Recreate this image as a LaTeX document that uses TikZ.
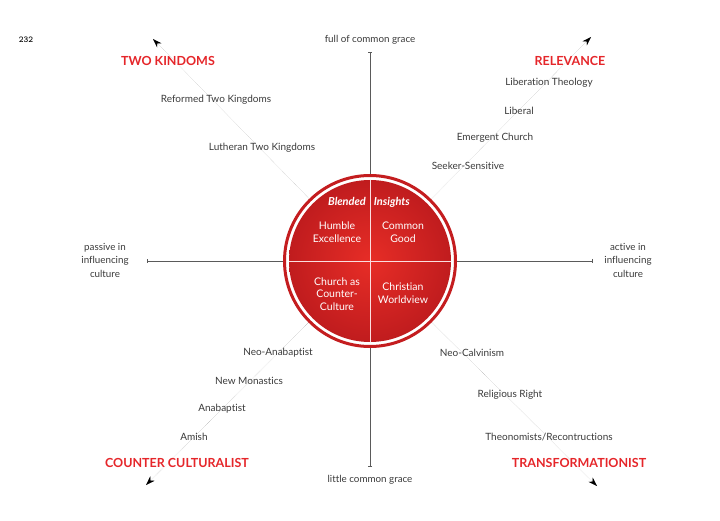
\documentclass[tikz,border=0pt]{standalone}
\usepackage{fontspec}
\setmainfont{Lato}[Ligatures=NoCommon]
\usetikzlibrary{positioning,arrows.meta}
\definecolor{Grace}{HTML}{E5262A}
\definecolor{GraceDark}{HTML}{C01C1E}
\definecolor{Axis}{HTML}{5A5A5A}
\definecolor{Ink}{HTML}{3A3A3A}

\begin{document}
\begin{tikzpicture}[x=1pt,y=-1pt,
    item/.style={font=\fontsize{10}{11}\selectfont,text=Ink},
    pole/.style={font=\fontsize{9.8}{13.5}\selectfont,text=Ink,align=center},
    camp/.style={font=\fontsize{12.5}{14}\selectfont\bfseries,text=Grace},
    blend/.style={font=\fontsize{10.5}{12.8}\selectfont,text=white,align=center},
    diag/.style={gray!60,densely dotted,-{Stealth[length=9pt,width=6pt,black]}}]
        \useasboundingbox (0,0) rectangle (720,521);
        % axes
        \coordinate (c) at (370,261);
        \coordinate (top) at (370,52);
        \coordinate (bot) at (370,467);
        \coordinate (lft) at (147,261);
        \coordinate (rgt) at (593,261);
        \draw[Axis,line width=0.9pt,{Bar[width=4pt]}-{Bar[width=4pt]}] (lft)--(rgt);
        \draw[Axis,line width=0.9pt,{Bar[width=4pt]}-{Bar[width=4pt]}] (top)--(bot);
        % diagonals
        \coordinate (tk) at (153,39);
        \coordinate (rel) at (591,37);
        \coordinate (cc) at (146,485);
        \coordinate (tf) at (597,486);
        \foreach \d in {tk,rel,cc,tf} {\draw[diag] (c)--(\d);}
        % disc
        \fill[white] (c) circle[radius=87pt];
        \draw[GraceDark!90!Grace,line width=3pt] (c) circle[radius=85.5pt];
        \shade[inner color=Grace!92!orange,outer color=GraceDark] (c) circle[radius=81pt];
        \begin{scope}
          \clip (c) circle[radius=81pt];
          \draw[white!85!Grace,line width=0.9pt] (lft)--(rgt) (top)--(bot);
        \end{scope}
        \node[blend,font=\fontsize{11}{13}\selectfont\bfseries\itshape] (blended) at (369,202) {Blended\hspace{8pt}Insights};
        \node[blend] (humble) at (337,232) {Humble\\Excellence};
        \node[blend] (common) at (403,232) {Common\\Good};
        \node[blend] (counter) at (337,294) {Church as\\Counter-\\Culture};
        \node[blend] (worldview) at (403,293) {Christian\\Worldview};
        % poles
        \node[font=\fontsize{9}{10}\selectfont\bfseries\ttfamily] (page) at (26,40) {232};
        \node[pole] (full) at (370,40) {full of common grace};
        \node[pole] (little) at (370,480) {little common grace};
        \node[pole] (passive) at (105,260) {passive in\\influencing\\culture};
        \node[pole] (active) at (628,260) {active in\\influencing\\culture};
        % camps
        \node[camp] (twok) at (168,61) {TWO KINDOMS};
        \node[camp] (relevance) at (570,61) {RELEVANCE};
        \node[camp] (counterc) at (177,463) {COUNTER CULTURALIST};
        \node[camp] (transf) at (579,463) {TRANSFORMATIONIST};
        % positions
        \node[item] (reformed) at (216,100) {Reformed Two Kingdoms};
        \node[item] (lutheran) at (262,148) {Lutheran Two Kingdoms};
        \node[item] (liberation) at (549,83) {Liberation Theology};
        \node[item] (liberal) at (519,111) {Liberal};
        \node[item] (emergent) at (495,138) {Emergent Church};
        \node[item] (seeker) at (468,166) {Seeker-Sensitive};
        \node[item] (neoana) at (278,353) {Neo-Anabaptist};
        \node[item] (monastics) at (249,381) {New Monastics};
        \node[item] (anabaptist) at (222,409) {Anabaptist};
        \node[item] (amish) at (194,437) {Amish};
        \node[item] (neocal) at (472,353) {Neo-Calvinism};
        \node[item] (right) at (510,395) {Religious Right};
        \node[item] (theonom) at (549,437) {Theonomists/Recontructions};
      \end{tikzpicture}
\end{document}
